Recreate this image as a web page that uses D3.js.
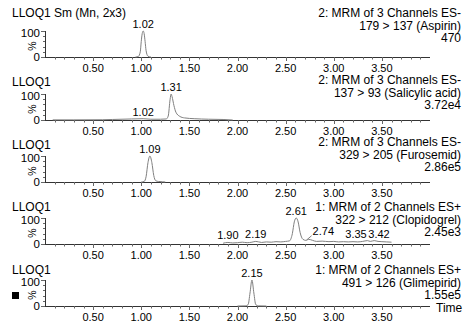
<!DOCTYPE html>
<html>
    <head>
        <meta charset='utf-8'>
        <title>LLOQ1 chromatograms</title>
        <script src='https://cdnjs.cloudflare.com/ajax/libs/d3/7.8.5/d3.min.js'></script>
        <style>
            body { margin:0; background:#fff; }
            text { font-family: 'Liberation Sans', Arial, sans-serif; fill:#000; }
        </style>
    </head>
    <body>
        <div id='chart'></div>
        <script>
            // channel headers (right side)
            var channels = ["2: MRM of 3 Channels ES-", "2: MRM of 3 Channels ES-", "2: MRM of 3 Channels ES-",
                            "1: MRM of 2 Channels ES+", "1: MRM of 2 Channels ES+"];
            var transitions = ["179 > 137 (Aspirin)", "137 > 93 (Salicylic acid)", "329 > 205 (Furosemid)",
                               "322 > 212 (Clopidogrel)", "491 > 126 (Glimepirid)"];
            var maxima = ["470", "3.72e4", "2.86e5", "2.45e3", "1.55e5"];
            var titles = ["LLOQ1 Sm (Mn, 2x3)", "LLOQ1", "LLOQ1", "LLOQ1", "LLOQ1"];

            var xTicks = [0.5, 1.0, 1.5, 2.0, 2.5, 3.0, 3.5];
            var xTickLabels = ["0.50", "1.00", "1.50", "2.00", "2.50", "3.00", "3.50"];

            // traces: retention time (min) and intensity (%)
            var aspirinT = [0.94, 0.97, 0.99, 1.00, 1.01, 1.02, 1.03, 1.04, 1.05, 1.07, 1.10];
            var aspirinI = [0, 2, 20, 60, 90, 100, 90, 60, 25, 3, 0];

            var salicylicT = [0.08, 0.3, 0.6, 0.7, 0.8, 0.9, 1.02, 1.1, 1.2, 1.26, 1.28, 1.30, 1.31, 1.32, 1.34, 1.36, 1.40, 1.45, 1.55, 1.7, 1.85, 1.95];
            var salicylicI = [0.5, 0.5, 1, 2, 3, 4, 5, 3, 3, 4, 15, 80, 100, 90, 55, 30, 14, 8, 5, 3, 2, 0];

            var furosemidT = [1.00, 1.03, 1.05, 1.07, 1.09, 1.11, 1.13, 1.15, 1.18, 1.22, 1.25];
            var furosemidI = [0, 2, 20, 75, 100, 75, 25, 5, 2, 1, 0];

            var clopidogrelT = [1.85, 1.90, 1.95, 2.00, 2.05, 2.10, 2.15, 2.19, 2.25, 2.30, 2.35, 2.40, 2.45, 2.50, 2.54, 2.57, 2.59, 2.61, 2.63, 2.65, 2.68,
                                2.71, 2.74, 2.78, 2.82, 2.88, 2.95, 3.00, 3.05, 3.10, 3.15, 3.20, 3.25, 3.30, 3.35, 3.38, 3.42, 3.46, 3.50, 3.55, 3.60];
            var clopidogrelI = [3, 6, 4, 5, 7, 5, 7, 10, 6, 8, 7, 9, 8, 10, 12, 40, 85, 100, 85, 45, 18,
                                14, 18, 14, 10, 11, 9, 10, 8, 9, 8, 9, 8, 10, 13, 10, 13, 10, 9, 8, 7];

            var glimepiridT = [2.00, 2.08, 2.11, 2.13, 2.15, 2.17, 2.19, 2.22, 2.30];
            var glimepiridI = [0, 0.5, 5, 50, 100, 50, 5, 0.5, 0];

            // labelled peaks: retention time and intensity at label
            var peakT = [[1.02], [1.02, 1.31], [1.09], [1.90, 2.19, 2.61, 3.35, 3.42], [2.15]];
            var peakI = [[100], [5, 100], [100], [6, 10, 100, 13, 13], [100]];

            var traceT = [aspirinT, salicylicT, furosemidT, clopidogrelT, glimepiridT];
            var traceI = [aspirinI, salicylicI, furosemidI, clopidogrelI, glimepiridI];

            var w = 466;
            var h = 323;
            var axisY = [57, 119.5, 182, 244, 306];
            var titleY = [17, 86, 149, 211, 274];
            var headY = [17, 84, 146, 211, 274];
            var plotH = 26;

            var svg = d3.select("#chart")
                        .append("svg")
                        .attr("width", w)
                        .attr("height", h);

            var x = d3.scaleLinear().domain([0, 4.0]).range([45, 430]);
            var minor = d3.range(1, 40).map(function(i) { return i / 10; });

            var line = d3.line()
                         .x(function(d) { return x(d[0]); })
                         .y(function(d) { return d[1]; })
                         .curve(d3.curveMonotoneX);

            for (var p = 0; p < 5; p++) {
                var base = Math.round(axisY[p]);
                var y = d3.scaleLinear().domain([0, 100]).range([base, base - plotH]);
                var g = svg.append("g");

                // axes
                g.append("line").attr("x1", 46).attr("x2", 430).attr("y1", base + 0.5).attr("y2", base + 0.5)
                    .attr("stroke", "#333");
                g.append("line").attr("x1", 45.5).attr("x2", 45.5).attr("y1", base - plotH).attr("y2", base + 1)
                    .attr("stroke", "#333");

                g.selectAll("line.minor")
                    .data(minor)
                    .enter()
                    .append("line")
                    .attr("x1", function(d) { return Math.round(x(d)) + 0.5; })
                    .attr("x2", function(d) { return Math.round(x(d)) + 0.5; })
                    .attr("y1", base)
                    .attr("y2", function(d) { return Math.abs(d * 2 - Math.round(d * 2)) < 0.01 ? base + 4 : base + 2.5; })
                    .attr("stroke", "#666");

                g.selectAll("line.ytick")
                    .data([0, 20, 40, 60, 80, 100])
                    .enter()
                    .append("line")
                    .attr("x1", function(d) { return (d == 0 || d == 100) ? 41 : 43; })
                    .attr("x2", 45)
                    .attr("y1", function(d) { return Math.round(y(d)) + 0.5; })
                    .attr("y2", function(d) { return Math.round(y(d)) + 0.5; })
                    .attr("stroke", "#666");

                g.selectAll("text.xlab")
                    .data(xTicks)
                    .enter()
                    .append("text")
                    .text(function(d, i) { return xTickLabels[i]; })
                    .attr("x", function(d) { return x(d); })
                    .attr("y", base + 14.5)
                    .attr("font-size", "11px")
                    .attr("text-anchor", "middle");

                g.append("text").text("100").attr("x", 40).attr("y", y(100) + 6)
                    .attr("font-size", "11.5px").attr("text-anchor", "end");
                g.append("text").text("0").attr("x", 40).attr("y", base + 4)
                    .attr("font-size", "11.5px").attr("text-anchor", "end");
                g.append("text").text("%")
                    .attr("transform", "translate(" + 36 + "," + (base - 11) + ") rotate(-90)")
                    .attr("font-size", "10.5px").attr("text-anchor", "middle");

                // header texts
                g.append("text").text(titles[p]).attr("x", 12).attr("y", titleY[p])
                    .attr("font-size", "12px");
                [channels[p], transitions[p], maxima[p]].forEach(function(s, k) {
                    g.append("text").text(s).attr("x", 461).attr("y", headY[p] + k * 12.5)
                        .attr("font-size", "12px").attr("text-anchor", "end");
                });

                // trace
                var pts = traceT[p].map(function(t, i) { return [t, y(traceI[p][i])]; });
                g.append("path")
                    .attr("d", line(pts))
                    .attr("fill", "none")
                    .attr("stroke", "#808080")
                    .attr("stroke-width", 1);

                // peak labels, pushed apart when they would collide
                var lx = peakT[p].map(function(t) { return x(t); });
                for (var i = 1; i < lx.length; i++) {
                    var gap = lx[i] - lx[i - 1];
                    if (gap < 23 && Math.abs(peakI[p][i] - peakI[p][i - 1]) < 20) {
                        lx[i - 1] -= (23 - gap) * 0.7;
                        lx[i] += (23 - gap) * 0.3;
                    }
                }
                g.selectAll("text.peak")
                    .data(peakT[p])
                    .enter()
                    .append("text")
                    .text(function(d) { return d.toFixed(2); })
                    .attr("x", function(d, i) { return lx[i]; })
                    .attr("y", function(d, i) { return y(peakI[p][i]) - 3; })
                    .attr("font-size", "11px")
                    .attr("text-anchor", "middle");
            }

            // 2.74 label with leader line in the clopidogrel panel
            var y4 = d3.scaleLinear().domain([0, 100]).range([axisY[3], axisY[3] - plotH]);
            svg.append("line")
                .attr("x1", x(2.72)).attr("y1", y4(16))
                .attr("x2", x(2.77)).attr("y2", y4(32))
                .attr("stroke", "#808080");
            svg.append("text").text("2.74")
                .attr("x", x(2.77) + 1).attr("y", y4(34))
                .attr("font-size", "11px");

            // marker square and Time label
            svg.append("rect").attr("x", 12).attr("y", 292).attr("width", 7).attr("height", 7).attr("fill", "#000");
            svg.append("text").text("Time").attr("x", 436).attr("y", 312).attr("font-size", "12px");
        </script>
    </body>
</html>
